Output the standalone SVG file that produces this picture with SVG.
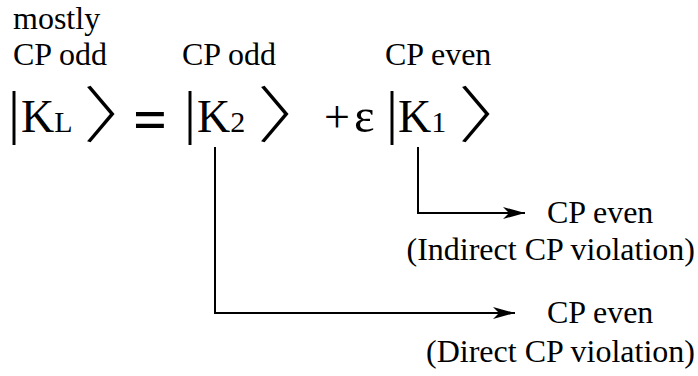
<svg xmlns="http://www.w3.org/2000/svg" width="698" height="376" viewBox="0 0 698 376">
<style>
text{font-family:"Liberation Serif","Times New Roman",serif;fill:#000}
.lab{font-size:32px}
.k{font-size:46px}
.sub{font-size:30px}
.bar{font-size:60px}
.ang{font-family:"DejaVu Sans",sans-serif;font-size:64px;letter-spacing:-32px}
.conn{fill:none;stroke:#000;stroke-width:2}
</style>
<defs>
<marker id="ah" markerUnits="userSpaceOnUse" markerWidth="24" markerHeight="14" refX="22" refY="7" orient="auto">
<path d="M0,1 L22,7 L0,13 L6,7 Z" fill="#000"/>
</marker>
</defs>
<rect width="698" height="376" fill="#fff"/>
<g id="label-mostly"><text class="lab" x="13" y="29">mostly</text></g>
<g id="label-kl"><text class="lab" x="13" y="65">CP odd</text></g>
<g id="label-k2"><text class="lab" x="182" y="65">CP odd</text></g>
<g id="label-k1"><text class="lab" x="385" y="65">CP even</text></g>
<g id="ket-kl">
<text x="8" y="132"><tspan class="bar">|</tspan><tspan class="k" dx="1">K</tspan><tspan class="sub">L</tspan></text>
<text class="ang" transform="translate(72,137) scale(1.8,1)">〉</text>
</g>
<g id="equals"><text x="133" y="139" style="font-size:60px;font-weight:bold">=</text></g>
<g id="ket-k2">
<text x="184" y="132"><tspan class="bar">|</tspan><tspan class="k" dx="1">K</tspan><tspan class="sub">2</tspan></text>
<text class="ang" transform="translate(246,137) scale(1.8,1)">〉</text>
</g>
<g id="plus-eps"><text class="k" x="324" y="132">+<tspan dx="4" style="font-size:49px">ε</tspan></text></g>
<g id="ket-k1">
<text x="386" y="132"><tspan class="bar">|</tspan><tspan class="k">K</tspan><tspan class="sub">1</tspan></text>
<text class="ang" transform="translate(447,137) scale(1.8,1)">〉</text>
</g>
<g id="connectors">
<path class="conn" d="M418,147 V213 H525" marker-end="url(#ah)"/>
<path class="conn" d="M215,147 V313 H515" marker-end="url(#ah)"/>
</g>
<g id="out-indirect">
<text class="lab" x="547" y="223">CP even</text>
<text class="lab" x="695" y="260" text-anchor="end">(Indirect CP violation)</text>
</g>
<g id="out-direct">
<text class="lab" x="547" y="323">CP even</text>
<text class="lab" x="695" y="362" text-anchor="end">(Direct CP violation)</text>
</g>
</svg>
